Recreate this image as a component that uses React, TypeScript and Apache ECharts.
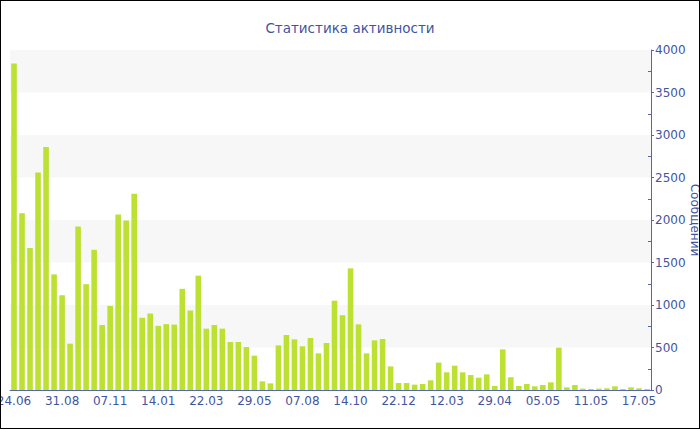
import React, { useEffect, useRef } from "react";
import * as echarts from "echarts";

const categories: string[] = [
  "24.06", "05.07", "17.07", "28.07", "08.08", "20.08",
  "31.08", "11.09", "23.09", "04.10", "15.10", "27.10",
  "07.11", "18.11", "30.11", "11.12", "22.12", "03.01",
  "14.01", "25.01", "05.02", "17.02", "28.02", "11.03",
  "22.03", "02.04", "14.04", "25.04", "06.05", "18.05",
  "29.05", "10.06", "21.06", "03.07", "15.07", "26.07",
  "07.08", "18.08", "30.08", "10.09", "21.09", "03.10",
  "14.10", "25.10", "06.11", "17.11", "29.11", "10.12",
  "22.12", "04.01", "17.01", "31.01", "13.02", "27.02",
  "12.03", "20.03", "28.03", "05.04", "13.04", "21.04",
  "29.04", "30.04", "01.05", "02.05", "03.05", "04.05",
  "05.05", "06.05", "07.05", "08.05", "09.05", "10.05",
  "11.05", "12.05", "13.05", "14.05", "15.05", "16.05",
  "17.05", "18.05",
];

const messages: number[] = [
  3840, 2080, 1670, 2560, 2860, 1360,
  1115, 545, 1925, 1245, 1650, 765,
  990, 2065, 1995, 2310, 850, 900,
  755, 775, 770, 1190, 935, 1345,
  722, 765, 722, 565, 565, 506,
  404, 102, 78, 525, 647, 596,
  514, 612, 431, 553, 1051, 880,
  1431, 772, 431, 584, 600, 278,
  82, 82, 63, 71, 114, 322,
  208, 286, 208, 176, 145, 184,
  47, 478, 149, 47, 71, 43,
  59, 90, 498, 31, 59, 16,
  12, 16, 20, 43, 12, 31,
  20, 12,
];

const titleText = "Статистика активности";
const yAxisName = "Сообщений";

const FONT = "DejaVu Sans";
const BLUE = "#3f55a1";
const AXIS = "#5566aa";

export default function App() {
  const ref = useRef<HTMLDivElement>(null);
  useEffect(() => {
    document.body.style.margin = "0";
    if (!ref.current) return;
    const chart = echarts.init(ref.current, undefined, { renderer: "svg" });
    chart.setOption({
      animation: false,
      backgroundColor: "#ffffff",
      title: {
        text: titleText,
        left: "center",
        top: 16,
        textStyle: { fontFamily: FONT, fontSize: 13.5, fontWeight: "normal", color: BLUE },
      },
      grid: { left: 10, right: 49, top: 50, bottom: 40, outerBoundsMode: "none", containLabel: false },
      xAxis: {
        type: "category",
        data: categories,
        boundaryGap: true,
        axisLine: { lineStyle: { color: AXIS, width: 1 } },
        axisTick: { alignWithLabel: true, interval: 5, length: 3, lineStyle: { color: AXIS } },
        axisLabel: { interval: 5, margin: 5, color: BLUE, fontFamily: FONT, fontSize: 12, hideOverlap: false },
        splitLine: { show: false },
      },
      yAxis: {
        type: "value",
        position: "right",
        min: 0,
        max: 4000,
        interval: 500,
        name: yAxisName,
        nameLocation: "middle",
        nameRotate: -90,
        nameGap: 38,
        nameMoveOverlap: false,
        nameTextStyle: { color: BLUE, fontFamily: FONT, fontSize: 12 },
        axisLine: { show: true, lineStyle: { color: AXIS, width: 1 } },
        axisTick: { show: true, length: 3, lineStyle: { color: AXIS } },
        minorTick: { show: true, splitNumber: 2, length: -3, lineStyle: { color: AXIS } },
        axisLabel: {
          margin: 4,
          color: BLUE,
          fontFamily: FONT,
          fontSize: 12,
          formatter: (v: number) => String(v),
        },
        splitLine: { show: false },
        splitArea: { show: true, areaStyle: { color: ["#ffffff", "#f7f7f7"] } },
      },
      series: [
        {
          type: "bar",
          data: messages,
          barWidth: "70%",
          itemStyle: { color: "#bde132" },
        },
      ],
    });
    return () => chart.dispose();
  }, []);
  return (
    <div style={{ position: "relative", width: 700, height: 430 }}>
      <div ref={ref} style={{ width: 700, height: 430 }} />
      <div
        style={{
          position: "absolute",
          left: 0,
          top: 0,
          width: 700,
          height: 429,
          boxSizing: "border-box",
          border: "1px solid #000",
          pointerEvents: "none",
        }}
      />
    </div>
  );
}
